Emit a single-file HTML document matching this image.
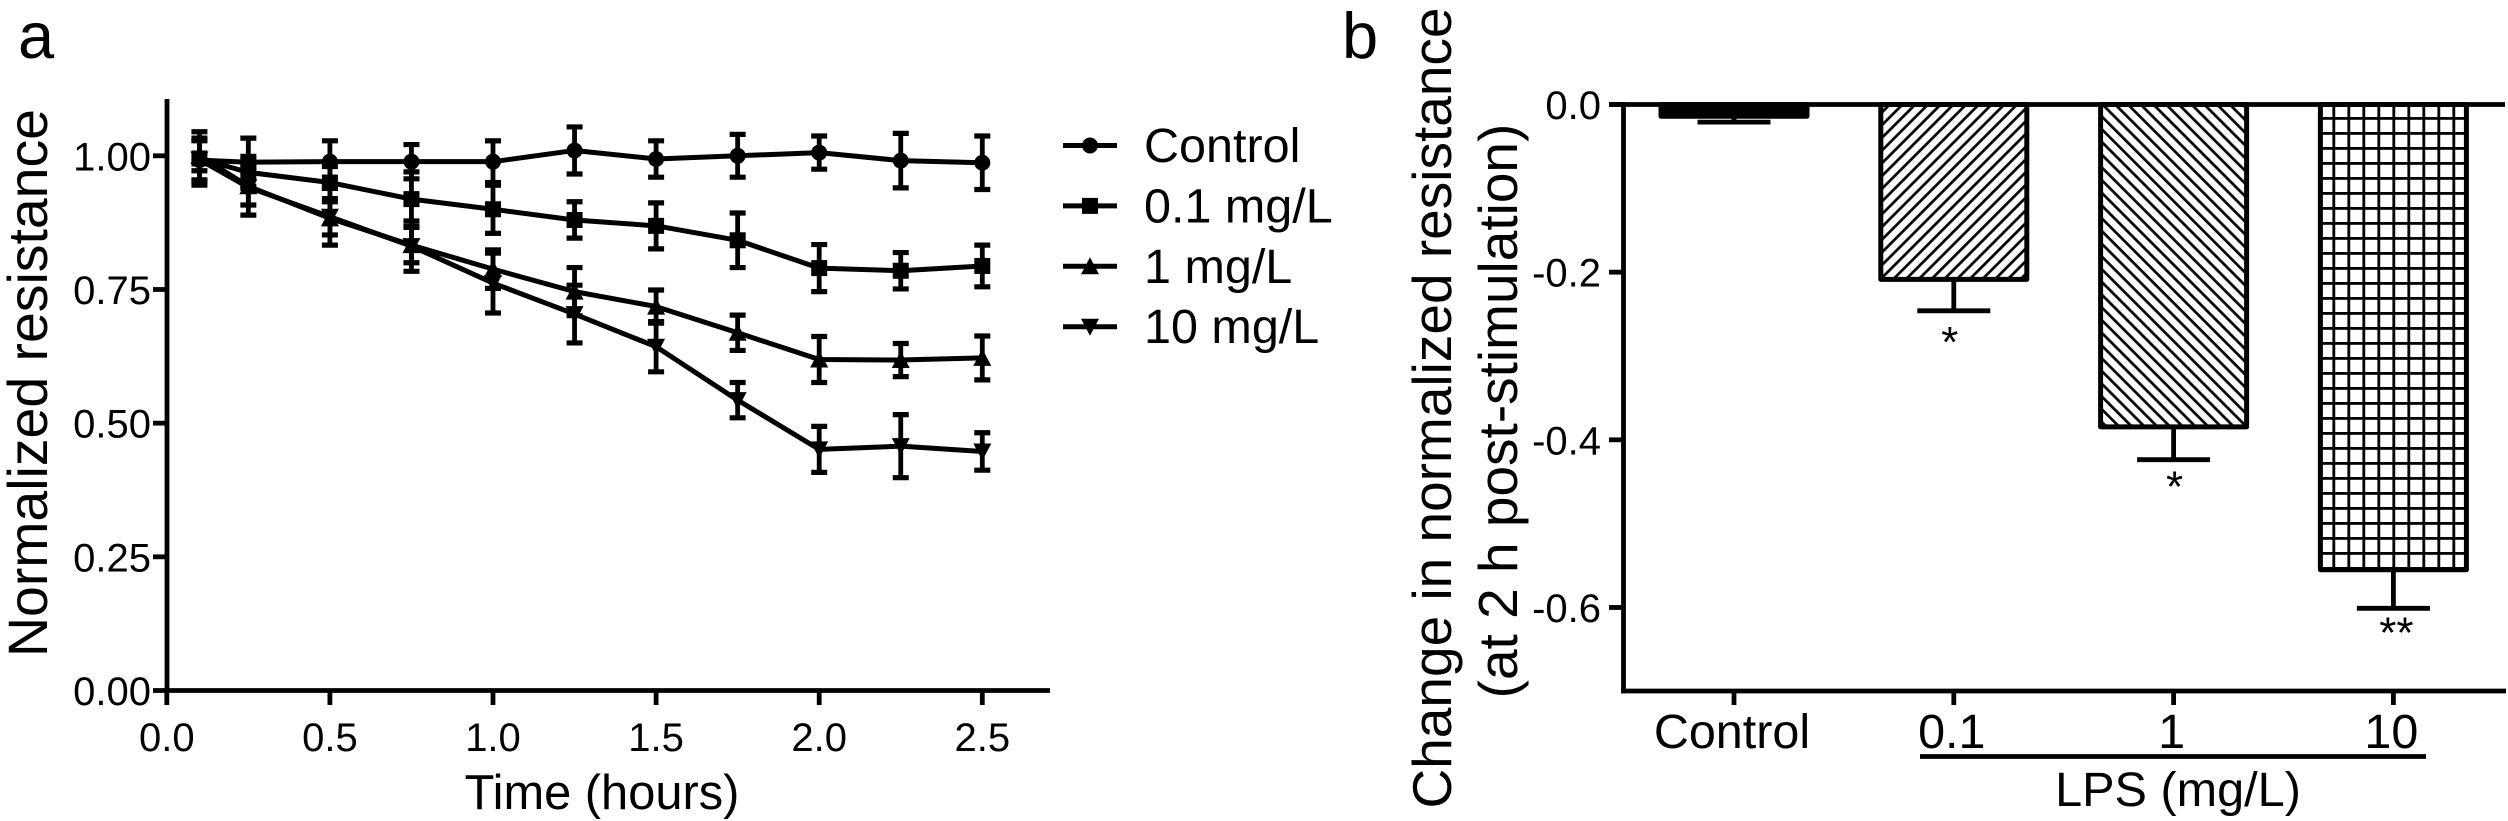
<!DOCTYPE html>
<html lang="en">
<head>
<meta charset="utf-8">
<title>Normalized resistance charts</title>
<style>
html,body{margin:0;padding:0;background:#fff;}
svg{display:block;}
text{font-family:"Liberation Sans",Arial,sans-serif;fill:#000;}
</style>
</head>
<body>
<svg id="fig" xmlns="http://www.w3.org/2000/svg" width="2508" height="821" viewBox="0 0 2508 821">
<defs>
<pattern id="hatch-forward" patternUnits="userSpaceOnUse" width="9" height="9" patternTransform="translate(1900,107) rotate(45)"><rect width="9" height="9" fill="#fff"/><rect x="-1.35" y="0" width="2.7" height="9" fill="#000"/><rect x="7.65" y="0" width="2.7" height="9" fill="#000"/></pattern>
<pattern id="hatch-back" patternUnits="userSpaceOnUse" width="9" height="9" patternTransform="translate(2105,107) rotate(-45)"><rect width="9" height="9" fill="#fff"/><rect x="-1.35" y="0" width="2.7" height="9" fill="#000"/><rect x="7.65" y="0" width="2.7" height="9" fill="#000"/></pattern>
<pattern id="hatch-grid" patternUnits="userSpaceOnUse" width="15" height="15" patternTransform="translate(2332.4,117)"><rect width="15" height="15" fill="#fff"/><rect x="0" y="0" width="2.8" height="15" fill="#000"/><rect x="0" y="0" width="15" height="2.8" fill="#000"/></pattern>
</defs>
</svg>
<script>
// Panel a data
var timePoints = [0.1, 0.25, 0.5, 0.75, 1.0, 1.25, 1.5, 1.75, 2.0, 2.25, 2.5];
var controlValues = [0.992, 0.988, 0.989, 0.989, 0.989, 1.010, 0.994, 1.000, 1.006, 0.991, 0.987];
var controlErrors = [0.037, 0.045, 0.039, 0.032, 0.039, 0.044, 0.034, 0.040, 0.031, 0.051, 0.050];
var lps01Values = [0.995, 0.969, 0.950, 0.919, 0.900, 0.880, 0.869, 0.842, 0.790, 0.785, 0.794];
var lps01Errors = [0.050, 0.030, 0.030, 0.051, 0.045, 0.034, 0.043, 0.051, 0.044, 0.034, 0.039];
var lps1Values = [1.000, 0.943, 0.883, 0.833, 0.788, 0.746, 0.718, 0.669, 0.619, 0.618, 0.622];
var lps1Errors = [0.028, 0.035, 0.031, 0.033, 0.036, 0.045, 0.031, 0.033, 0.043, 0.031, 0.041];
var lps10Values = [0.993, 0.941, 0.886, 0.831, 0.762, 0.704, 0.643, 0.543, 0.451, 0.457, 0.447];
var lps10Errors = [0.040, 0.052, 0.053, 0.047, 0.056, 0.054, 0.047, 0.033, 0.043, 0.059, 0.035];
var legendLabels = ["Control", "0.1 mg/L", "1 mg/L", "10 mg/L"];
var xTickValuesA = [0, 0.5, 1, 1.5, 2, 2.5];
var xTickLabelsA = ["0.0", "0.5", "1.0", "1.5", "2.0", "2.5"];
var yTickValuesA = [0, 0.25, 0.5, 0.75, 1];
var yTickLabelsA = ["0.00", "0.25", "0.50", "0.75", "1.00"];

// Panel b data
var barCategories = ["Control", "0.1", "1", "10"];
var barValues = [-0.014, -0.2086, -0.3845, -0.555];
var barErrors = [0.007, 0.0375, 0.0392, 0.046];
var barStars = ["", "*", "*", "**"];
var yTickValuesB = [0, -0.2, -0.4, -0.6];
var yTickLabelsB = ["0.0", "-0.2", "-0.4", "-0.6"];

var NS = "http://www.w3.org/2000/svg";
var svg = document.getElementById("fig");

function xA(v) { return 166.8 + v * 326.2; }
function yA(v) { return 690.5 - v * 534.7; }
function xB(i) { return 1734 + i * 219.8; }
function yB(v) { return 104.5 - v * 838.3; }

function make(tag, attrs, parent) {
  var el = document.createElementNS(NS, tag);
  for (var k in attrs) { el.setAttribute(k, attrs[k]); }
  (parent || svg).appendChild(el);
  return el;
}
function seg(x1, y1, x2, y2, w, parent) {
  return make("line", { x1: x1, y1: y1, x2: x2, y2: y2, stroke: "#000", "stroke-width": w }, parent);
}
function label(str, x, y, size, anchor, parent, rotate) {
  var attrs = { x: x, y: y, "font-size": size, "text-anchor": anchor || "start" };
  if (rotate) { attrs.transform = "rotate(-90 " + x + " " + y + ")"; }
  var t = make("text", attrs, parent);
  t.textContent = str;
  return t;
}
function marker(shape, x, y, parent) {
  if (shape === "circle") {
    return make("circle", { cx: x, cy: y, r: 8, fill: "#000" }, parent);
  }
  if (shape === "square") {
    return make("rect", { x: x - 8, y: y - 8, width: 16, height: 16, fill: "#000" }, parent);
  }
  if (shape === "up") {
    return make("polygon", { points: (x) + "," + (y - 9) + " " + (x - 9) + "," + (y + 8) + " " + (x + 9) + "," + (y + 8), fill: "#000" }, parent);
  }
  return make("polygon", { points: (x) + "," + (y + 9) + " " + (x - 9) + "," + (y - 8) + " " + (x + 9) + "," + (y - 8), fill: "#000" }, parent);
}

/* ---------- Panel a ---------- */
var panelA = make("g", {});



var letterA = label("a", 18, 58, 65, "start", panelA);



var yAxisA = seg(167, 99, 167, 692.8, 4.8, panelA);


var xAxisA = seg(165, 690.5, 1050, 690.5, 4.8, panelA);



yTickValuesA.forEach(function (v, i) {
  var tick = seg(153, yA(v), 167, yA(v), 4.8, panelA);
  
  
  var t = label(yTickLabelsA[i], 151, yA(v) + 14.5, 40, "end", panelA);
  
  
});
xTickValuesA.forEach(function (v, i) {
  var tick = seg(xA(v), 690.5, xA(v), 705, 4.8, panelA);
  
  
  var t = label(xTickLabelsA[i], xA(v), 751, 40, "middle", panelA);
  
  
});

var yTitleA = label("Normalized resistance", 47, 383, 55.4, "middle", panelA, true);


var xTitleA = label("Time (hours)", 602, 809, 48.8, "middle", panelA);



function drawSeries(name, values, errors, shape) {
  var g = make("g", {}, panelA);
  
  
  var pts = timePoints.map(function (t, i) { return xA(t) + "," + yA(values[i]); }).join(" ");
  var line = make("polyline", { points: pts, fill: "none", stroke: "#000", "stroke-width": 5, "stroke-linejoin": "round" }, g);
  
  
  timePoints.forEach(function (t, i) {
    var x = xA(t), hi = yA(values[i] + errors[i]), lo = yA(values[i] - errors[i]);
    var stem = seg(x, hi, x, lo, 4.8, g);
    
    
    var capTop = seg(x - 8, hi, x + 8, hi, 5.2, g);
    
    
    var capBottom = seg(x - 8, lo, x + 8, lo, 5.2, g);
    
    
    var m = marker(shape, x, yA(values[i]), g);
    
    
  });
}
drawSeries("control", controlValues, controlErrors, "circle");
drawSeries("0-1-mg-l", lps01Values, lps01Errors, "square");
drawSeries("1-mg-l", lps1Values, lps1Errors, "up");
drawSeries("10-mg-l", lps10Values, lps10Errors, "down");

var legend = make("g", {}, panelA);


var legendShapes = ["circle", "square", "up", "down"];
legendLabels.forEach(function (txt, i) {
  var rowY = 145.5 + i * 60.4;
  var entry = make("g", {}, legend);
  
  
  var swatchLine = seg(1063, rowY, 1117, rowY, 5, entry);
  
  
  var swatchMark = marker(legendShapes[i], 1090, rowY, entry);
  
  
  var t = label(txt, 1144, rowY + 16.5, 48.5, "start", entry);
  
  
});

/* ---------- Panel b ---------- */
var panelB = make("g", {});



var letterB = label("b", 1342, 58, 65, "start", panelB);



var barFills = ["#000", "url(#hatch-forward)", "url(#hatch-back)", "url(#hatch-grid)"];
var barNames = ["bar-control", "bar-0-1", "bar-1", "bar-10"];
barValues.forEach(function (v, i) {
  var cx = xB(i), top = yB(0), bottom = yB(v), capY = yB(v - barErrors[i]);
  var stem = seg(cx, bottom, cx, capY, 4.8, panelB);
  
  
  var cap = seg(cx - 36.5, capY, cx + 36.5, capY, 4.8, panelB);
  
  
  var bar = make("rect", { x: cx - 73, y: top, width: 146, height: bottom - top, fill: barFills[i], stroke: "#000", "stroke-width": 5, "stroke-linejoin": "round" }, panelB);
  
  
  if (barStars[i]) {
    var starNudgeX = [0, -4, 1, 3];
    var starNudgeY = [0, 46, 42, 39];
    var star = label(barStars[i], cx + starNudgeX[i], capY + starNudgeY[i], 44, "middle", panelB);
    
    
  }
  var catTick = seg(cx, 691, cx, 705, 4.8, panelB);
  
  
  var catLabel = label(barCategories[i], cx - 2, 748, 48.5, "middle", panelB);
  
  
});

var yAxisB = seg(1623.5, 102, 1623.5, 693.2, 4.8, panelB);


var zeroLine = seg(1609, 104.5, 2505, 104.5, 4.8, panelB);


var xAxisB = seg(1621, 691, 2506, 691, 4.8, panelB);



yTickValuesB.forEach(function (v, i) {
  var tick = seg(1609, yB(v), 1623.5, yB(v), 4.8, panelB);
  
  
  var t = label(yTickLabelsB[i], 1601, yB(v) + 14.5, 40, "end", panelB);
  
  
});

var yTitleB1 = label("Change in normalized resistance", 1451, 408, 55, "middle", panelB, true);


var yTitleB2 = label("(at 2 h post-stimulation)", 1517, 411, 55, "middle", panelB, true);



var lpsBracket = seg(1920, 756.5, 2426, 756.5, 4.8, panelB);


var lpsTitle = label("LPS (mg/L)", 2178, 806, 48.6, "middle", panelB);


</script>
</body>
</html>
